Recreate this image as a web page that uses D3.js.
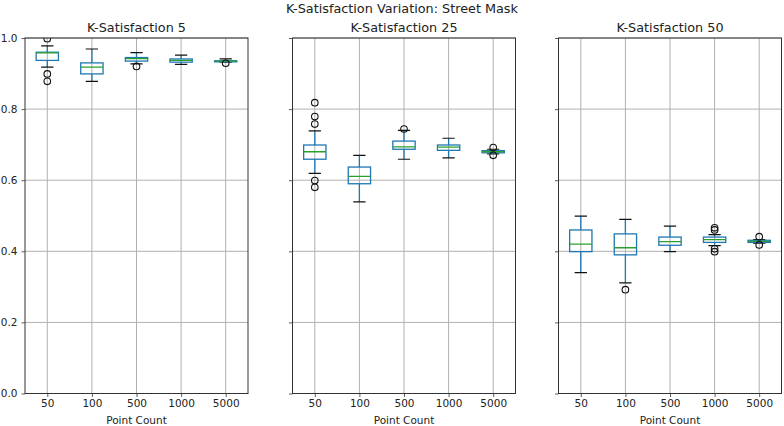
<!DOCTYPE html>
<html>
<head>
<meta charset="utf-8">
<script src="https://cdn.jsdelivr.net/npm/d3@7/dist/d3.min.js"></script>
<style>
html,body{margin:0;padding:0;background:#fff;}
svg{display:block;font-family:"DejaVu Sans",sans-serif;}
</style>
</head>
<body>
<svg id="chart" width="784" height="426"></svg>
<script>
// ---- data ----
const suptitle = "K-Satisfaction Variation: Street Mask";
const panelTitles = ["K-Satisfaction 5", "K-Satisfaction 25", "K-Satisfaction 50"];
const categories = ["50", "100", "500", "1000", "5000"];
const yTicks = [0.0, 0.2, 0.4, 0.6, 0.8, 1.0];
const xLabel = "Point Count";

// per panel (K=5, K=25, K=50), per category
const whiskerLow = [
  [0.918, 0.878, 0.927, 0.926, 0.932],
  [0.619, 0.539, 0.659, 0.663, 0.674],
  [0.340, 0.311, 0.399, 0.416, 0.423]
];
const q1 = [
  [0.937, 0.899, 0.935, 0.932, 0.933],
  [0.659, 0.590, 0.687, 0.684, 0.677],
  [0.399, 0.390, 0.417, 0.425, 0.425]
];
const median = [
  [0.958, 0.918, 0.942, 0.937, 0.935],
  [0.680, 0.611, 0.694, 0.693, 0.680],
  [0.420, 0.410, 0.427, 0.433, 0.428]
];
const q3 = [
  [0.960, 0.930, 0.945, 0.941, 0.936],
  [0.699, 0.637, 0.710, 0.699, 0.683],
  [0.460, 0.449, 0.440, 0.440, 0.431]
];
const whiskerHigh = [
  [0.978, 0.969, 0.959, 0.952, 0.941],
  [0.739, 0.670, 0.740, 0.718, 0.687],
  [0.499, 0.490, 0.471, 0.447, 0.433]
];
const outliers = [
  [[0.878, 0.899, 0.998], [], [0.920], [], [0.929]],
  [[0.818, 0.779, 0.758, 0.599, 0.580], [], [0.744], [], [0.692, 0.670]],
  [[], [0.292], [], [0.466, 0.460, 0.407, 0.399], [0.441, 0.418]]
];

// ---- layout ----
const svg = d3.select("#chart");
const panelLefts = [25, 292.5, 558.5];
const panelW = 223;
const plotTop = 38, plotBottom = 393.5;
const blue = "#1f77b4", green = "#2ca02c", gridC = "#b0b0b0", spineC = "#333";

const y = d3.scaleLinear().domain([0, 1]).range([plotBottom, plotTop]);

svg.append("text")
  .attr("x", 402).attr("y", 12.5)
  .attr("text-anchor", "middle")
  .attr("font-size", "12.8px").attr("fill", "#222")
  .text(suptitle);

panelTitles.forEach((title, p) => {
  const left = panelLefts[p], right = left + panelW;
  const x = d3.scalePoint().domain(categories).range([left, right]).padding(0.5);
  const step = x.step();
  const boxW = step * 0.5;
  const capW = boxW * 0.55;
  const g = svg.append("g");

  const clipId = "clip" + p;
  svg.append("clipPath").attr("id", clipId)
    .append("rect").attr("x", left).attr("y", plotTop).attr("width", panelW).attr("height", plotBottom - plotTop);

  // grid
  g.append("g").selectAll("line").data(yTicks).join("line")
    .attr("x1", left).attr("x2", right)
    .attr("y1", d => y(d)).attr("y2", d => y(d))
    .attr("stroke", gridC).attr("stroke-width", 1);
  g.append("g").selectAll("line").data(categories).join("line")
    .attr("x1", d => x(d)).attr("x2", d => x(d))
    .attr("y1", plotTop).attr("y2", plotBottom)
    .attr("stroke", gridC).attr("stroke-width", 1);

  // axes
  const yAxis = d3.axisLeft(y).tickValues(yTicks).tickSize(3.5).tickPadding(4)
    .tickFormat(p === 0 ? d3.format(".1f") : () => "");
  const ya = g.append("g").attr("transform", `translate(${left},0)`).call(yAxis);
  const xAxis = d3.axisBottom(x).tickSize(3.5).tickPadding(3);
  const xa = g.append("g").attr("transform", `translate(0,${plotBottom})`).call(xAxis);
  [ya, xa].forEach(a => {
    a.select(".domain").remove();
    a.selectAll(".tick line").attr("stroke", spineC).attr("stroke-width", 0.8);
    a.selectAll(".tick text").attr("fill", "#222").attr("font-size", "10.5px")
      .attr("font-family", "DejaVu Sans, sans-serif");
  });

  // boxes
  const plot = g.append("g").attr("clip-path", `url(#${clipId})`);
  categories.forEach((c, i) => {
    const cx = x(c);
    // whiskers
    plot.append("line").attr("x1", cx).attr("x2", cx)
      .attr("y1", y(q3[p][i])).attr("y2", y(whiskerHigh[p][i]))
      .attr("stroke", blue).attr("stroke-width", 1.3);
    plot.append("line").attr("x1", cx).attr("x2", cx)
      .attr("y1", y(q1[p][i])).attr("y2", y(whiskerLow[p][i]))
      .attr("stroke", blue).attr("stroke-width", 1.3);
    // caps
    [whiskerHigh[p][i], whiskerLow[p][i]].forEach(v => {
      plot.append("line").attr("x1", cx - capW / 2).attr("x2", cx + capW / 2)
        .attr("y1", y(v)).attr("y2", y(v))
        .attr("stroke", "#111").attr("stroke-width", 1.2);
    });
    // box
    plot.append("rect")
      .attr("x", cx - boxW / 2).attr("width", boxW)
      .attr("y", y(q3[p][i])).attr("height", Math.max(0.5, y(q1[p][i]) - y(q3[p][i])))
      .attr("fill", "none").attr("stroke", blue).attr("stroke-width", 1.3);
    // median
    plot.append("line").attr("x1", cx - boxW / 2).attr("x2", cx + boxW / 2)
      .attr("y1", y(median[p][i])).attr("y2", y(median[p][i]))
      .attr("stroke", green).attr("stroke-width", 1.3);
    // fliers
    plot.selectAll(null).data(outliers[p][i]).join("circle")
      .attr("cx", cx).attr("cy", d => y(d)).attr("r", 3.3)
      .attr("fill", "none").attr("stroke", "#111").attr("stroke-width", 1.1);
  });

  // spines
  g.append("rect").attr("x", left).attr("y", plotTop).attr("width", panelW).attr("height", plotBottom - plotTop)
    .attr("fill", "none").attr("stroke", spineC).attr("stroke-width", 1);

  // titles
  g.append("text").attr("x", left + panelW / 2).attr("y", 32)
    .attr("text-anchor", "middle").attr("font-size", "12.8px").attr("fill", "#222")
    .text(title);
  g.append("text").attr("x", left + panelW / 2).attr("y", 424)
    .attr("text-anchor", "middle").attr("font-size", "10.5px").attr("fill", "#222")
    .text(xLabel);
});
</script>
</body>
</html>
